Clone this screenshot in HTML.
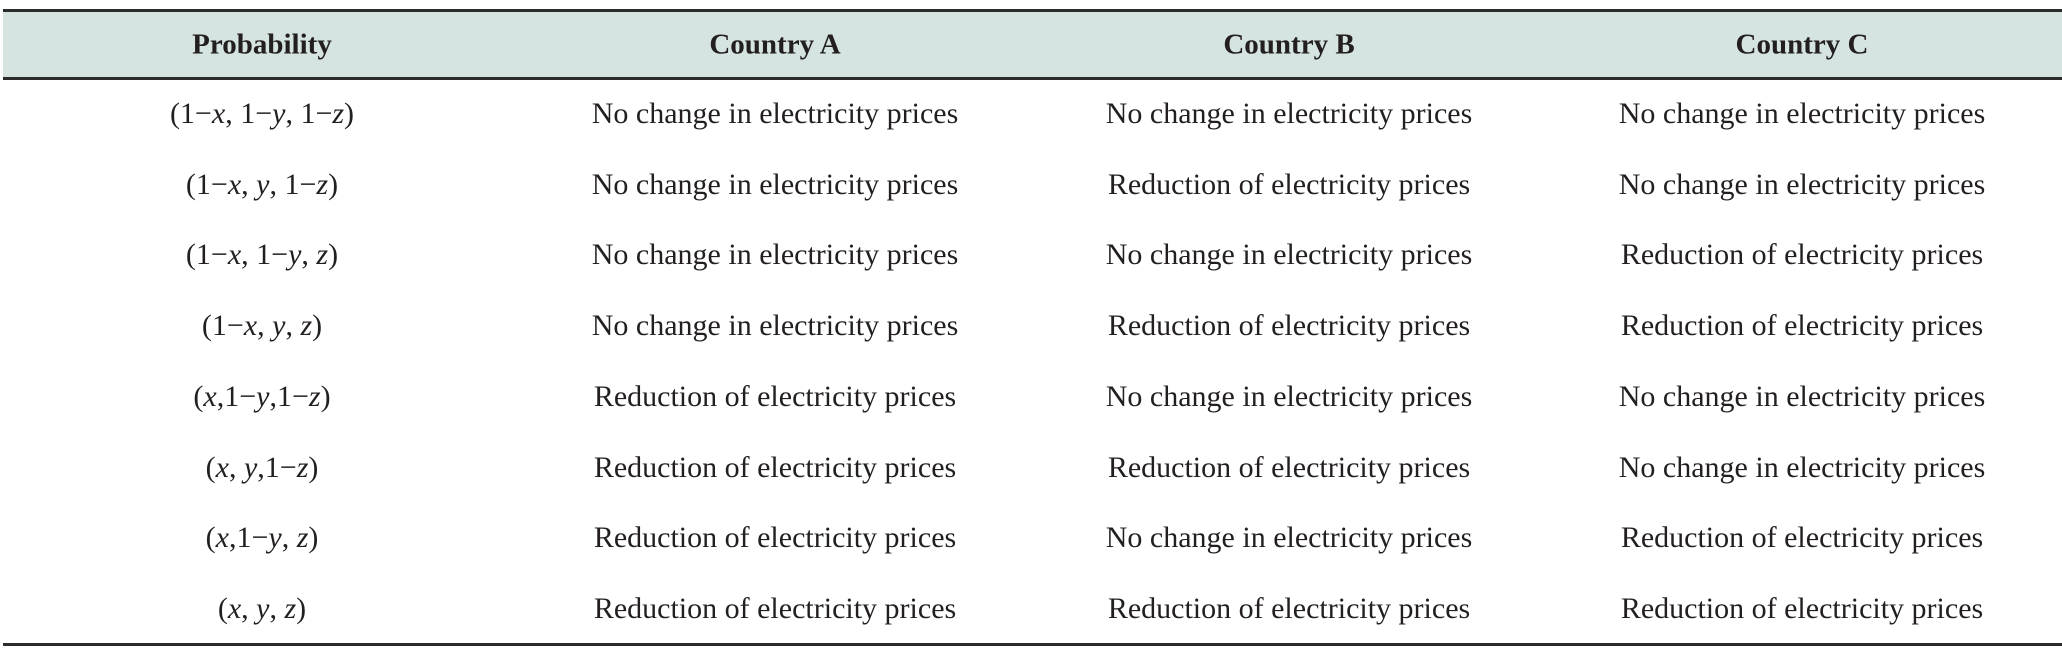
<!DOCTYPE html>
<html><head><meta charset="utf-8"><style>
html,body{margin:0;padding:0;background:#fff;}
body{width:2062px;height:649px;position:relative;overflow:hidden;font-family:"Liberation Serif",serif;color:#231f20;}
.line{position:absolute;left:3px;right:0;height:3px;background:#2b2b2b;}
#hdr{position:absolute;left:3px;right:0;top:11px;height:66px;background:#d5e3e1;}
.c{position:absolute;transform:translate(-50%,-50%);white-space:nowrap;font-size:30px;}
.h{font-weight:bold;font-size:29px;}
i{font-style:italic;}
</style></head><body>
<div id="hdr"></div>
<div class="line" style="top:9px"></div>
<div class="line" style="top:77px"></div>
<div class="line" style="top:643px"></div>
<div id="t"></div>
<script>
const heads=["Probability","Country A","Country B","Country C"];
const probs=["(1−<i>x</i>, 1−<i>y</i>, 1−<i>z</i>)","(1−<i>x</i>, <i>y</i>, 1−<i>z</i>)","(1−<i>x</i>, 1−<i>y</i>, <i>z</i>)","(1−<i>x</i>, <i>y</i>, <i>z</i>)","(<i>x</i>,1−<i>y</i>,1−<i>z</i>)","(<i>x</i>, <i>y</i>,1−<i>z</i>)","(<i>x</i>,1−<i>y</i>, <i>z</i>)","(<i>x</i>, <i>y</i>, <i>z</i>)"];
const N="No change in electricity prices",R="Reduction of electricity prices";
const colA=[N,N,N,N,R,R,R,R];
const colB=[N,R,N,R,N,R,N,R];
const colC=[N,N,R,R,N,N,R,R];
const xs=[262,775,1289,1802];
const t=document.getElementById('t');
heads.forEach((h,i)=>{
 const d=document.createElement('div');d.className='c h';d.style.left=xs[i]+'px';d.style.top='45px';d.textContent=h;
 
 
 t.appendChild(d);
});
for(let r=0;r<8;r++){
 const y=114+r*70.7;
 const vals=[probs[r],colA[r],colB[r],colC[r]];
 vals.forEach((v,i)=>{
  const d=document.createElement('div');d.className='c';d.style.left=xs[i]+'px';d.style.top=y+'px';d.innerHTML=v;
  
  
  t.appendChild(d);
 });
}
</script>
</body></html>
